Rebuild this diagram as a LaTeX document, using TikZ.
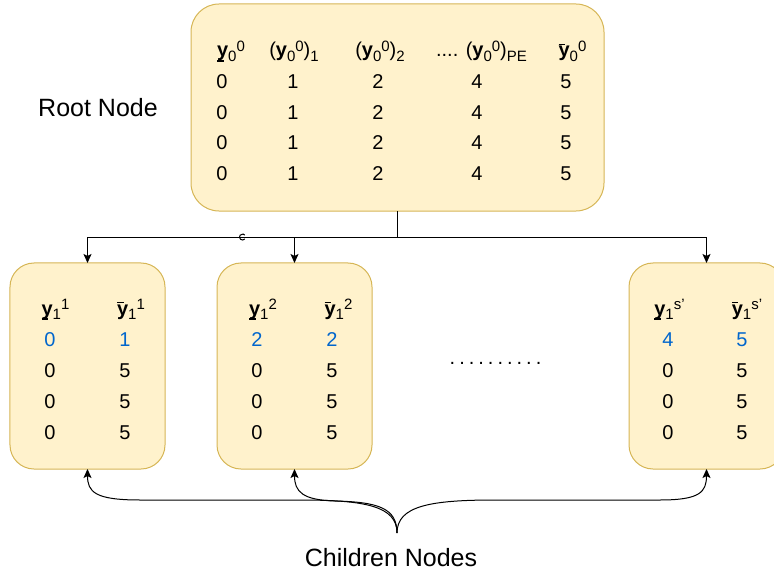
\documentclass[tikz,border=0pt]{standalone}
\usepackage{fontspec}
\setmainfont{Liberation Sans}
\usetikzlibrary{arrows.meta}
\definecolor{boxfill}{HTML}{FFF2CC}
\definecolor{boxdraw}{HTML}{D6B656}
\definecolor{bl}{HTML}{0066CC}
\newcommand\mysub[1]{\raisebox{-0.22em}{\fontsize{15bp}{15bp}\selectfont #1}}
\newcommand\mysup[1]{\raisebox{0.28em}{\fontsize{15bp}{15bp}\selectfont #1}}
\newcommand\ylo{\textbf{y}\kern-0.556em\rule[-0.24em]{0.32em}{0.08em}\kern0.236em}
\newcommand\ybr{\textbf{y}\kern-0.556em\rule[0.58em]{0.32em}{0.08em}\kern0.236em}
\tikzset{
  box/.style={draw=boxdraw, fill=boxfill, line width=1bp, inner sep=0pt, outer sep=0pt},
  tbl/.style={font=\fontsize{20bp}{24bp}\selectfont, inner sep=0pt, anchor=base},
  lbl/.style={font=\fontsize{25bp}{30bp}\selectfont, inner sep=0pt},
  arr/.style={-{Stealth[length=9bp,width=8bp,inset=2bp]}, line width=1bp, black},
}
\begin{document}
\begin{tikzpicture}[x=1bp,y=-1bp]
\useasboundingbox (0,0) rectangle (774,575);
\clip (0,0) rectangle (774,575);
% boxes
\node[box, rounded corners=28bp, minimum width=413bp, minimum height=207bp] (root) at (397.5,107.5) {};
\node[box, rounded corners=24bp, minimum width=155bp, minimum height=206bp] (b1) at (87.5,366) {};
\node[box, rounded corners=24bp, minimum width=155bp, minimum height=206bp] (b2) at (294.5,366) {};
\node[box, rounded corners=24bp, minimum width=155bp, minimum height=206bp] (b3) at (706.5,366) {};
% labels
\node[lbl] (rootlbl) at (98,108) {Root Node};
\node[lbl] (childlbl) at (391,558) {Children Nodes};
% root table
\node[tbl] (h1) at (231,57) {\ylo\mysub{0}\mysup{0}};
\node[tbl] (h2) at (294,57) {(\textbf{y}\mysub{0}\mysup{0})\mysub{1}};
\node[tbl] (h3) at (380,57) {(\textbf{y}\mysub{0}\mysup{0})\mysub{2}};
\node[tbl] (h4) at (481.5,57) {.... (\textbf{y}\mysub{0}\mysup{0})\mysub{PE}};
\node[tbl] (h5) at (572.5,57) {\ybr\mysub{0}\mysup{0}};
\foreach \yy [count=\i] in {89,119.5,150,180.5}{
  \node[tbl] (r\i a) at (222,\yy) {0};
  \node[tbl] (r\i b) at (293,\yy) {1};
  \node[tbl] (r\i c) at (378,\yy) {2};
  \node[tbl] (r\i d) at (477,\yy) {4};
  \node[tbl] (r\i e) at (566,\yy) {5};
}
% child 1
\node[tbl] (c1h1) at (55.5,315) {\ylo\mysub{1}\mysup{1}};
\node[tbl] (c1h2) at (131,315) {\ybr\mysub{1}\mysup{1}};
\node[tbl, text=bl] (c1a) at (50,346) {0};
\node[tbl, text=bl] (c1b) at (125,346) {1};
% child 2
\node[tbl] (c2h1) at (263,315) {\ylo\mysub{1}\mysup{2}};
\node[tbl] (c2h2) at (338.5,315) {\ybr\mysub{1}\mysup{2}};
\node[tbl, text=bl] (c2a) at (257,346) {2};
\node[tbl, text=bl] (c2b) at (332,346) {2};
% child 3
\node[tbl] (c3h1) at (669.5,315) {\ylo\mysub{1}\mysup{s'}};
\node[tbl] (c3h2) at (747,315) {\ybr\mysub{1}\mysup{s'}};
\node[tbl, text=bl] (c3a) at (668,346) {4};
\node[tbl, text=bl] (c3b) at (742,346) {5};
\foreach \yy [count=\i] in {377,408,439}{
  \node[tbl] (d1\i a) at (50,\yy) {0};
  \node[tbl] (d1\i b) at (125,\yy) {5};
  \node[tbl] (d2\i a) at (257,\yy) {0};
  \node[tbl] (d2\i b) at (332,\yy) {5};
  \node[tbl] (d3\i a) at (668,\yy) {0};
  \node[tbl] (d3\i b) at (742,\yy) {5};
}
% dots between
\node[tbl] (dots) at (495.5,364.5) {.\kern4bp.\kern4bp.\kern4bp.\kern4bp.\kern4bp.\kern4bp.\kern4bp.\kern4bp.\kern4bp.};
% top connectors
\draw[arr] (root.south) -- ++(0,26) -| (b1.north);
\draw[arr] (root.south) -- ++(0,26) -| (b2.north);
\draw[arr] (root.south) -- ++(0,26) -| (b3.north);
\coordinate (jmp) at (242.5,237);
\draw[line width=1bp] (jmp) ++(40:3) arc[start angle=40, end angle=320, radius=3];
% bottom curves
\coordinate (conv) at (397,533);
\draw[arr] (conv) .. controls (397,506) and (365,500) .. (300,500) -- (140,500) .. controls (95,500) and (87.5,492) .. (b1.south);
\draw[arr] (conv) .. controls (397,508) and (378,502) .. (335,501) .. controls (303,500) and (294.5,492) .. (b2.south);
\draw[arr] (conv) .. controls (397,506) and (430,500) .. (495,500) -- (660,500) .. controls (700,500) and (706.5,492) .. (b3.south);
\end{tikzpicture}
\end{document}
